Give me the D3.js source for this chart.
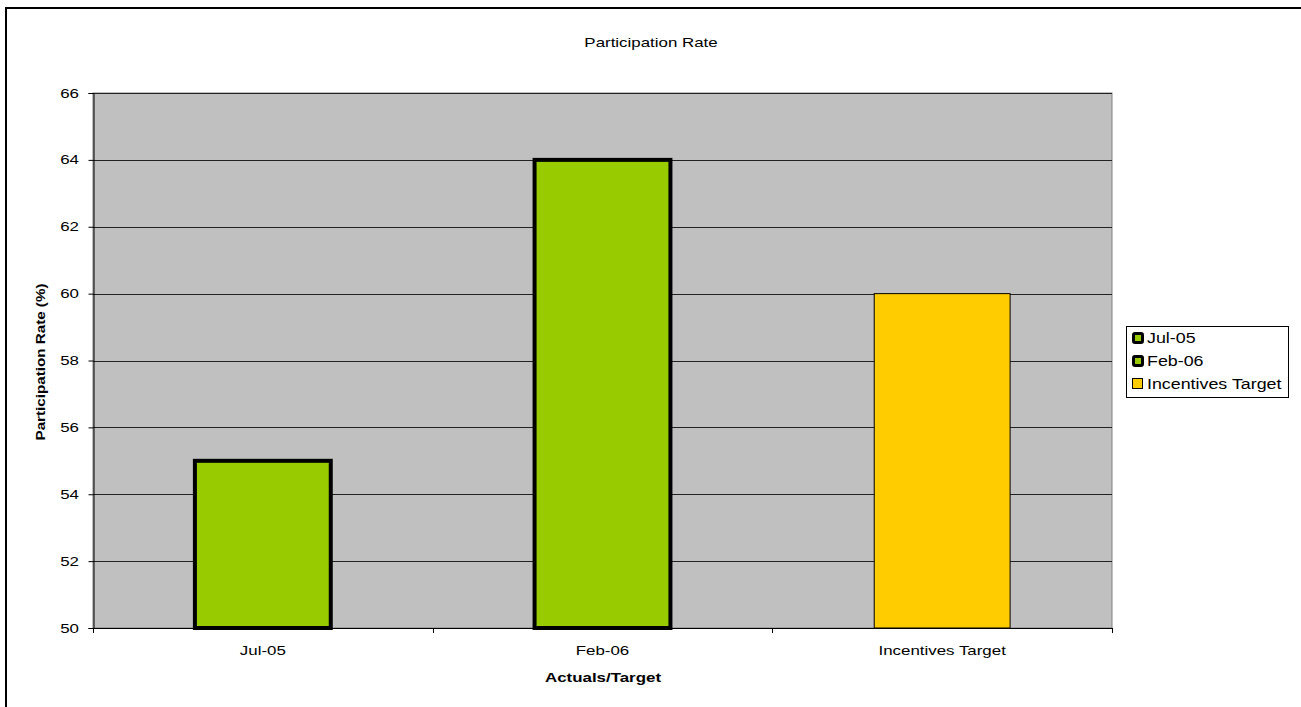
<html lang="en">
  <head>
    <meta charset="utf-8">
    <title>Participation Rate</title>
    <script src="https://d3js.org/d3.v7.min.js"></script>
    <style>
      body { margin: 0; background: #fff; }
      text { font-family: "Liberation Sans", Arial, sans-serif; fill: #000; }
    </style>
  </head>
  <body>
    <script type="text/javascript">
      var categories = ["Jul-05", "Feb-06", "Incentives Target"];
      var values = [55, 64, 60];
      var yTicks = [50, 52, 54, 56, 58, 60, 62, 64, 66];
      var fills = ["#99cc00", "#99cc00", "#ffcc00"];
      var strokeWidths = [4, 4, 1];

      var w = 1301, h = 707;
      var plot = {left: 93, top: 93, right: 1112, bottom: 628};
      var stretch = 1.3; // text in the original is wide-set

      var svg = d3.select("body").append("svg")
                  .attr("width", w)
                  .attr("height", h);

      // helper: horizontally stretched text
      function label(x, y, txt, anchor, size, bold, sx) {
        return svg.append("text")
                  .attr("transform", "translate(" + x + "," + y + ") scale(" + (sx || stretch) + ",1)")
                  .attr("text-anchor", anchor)
                  .style("font-size", size + "px")
                  .style("font-weight", bold ? "bold" : "normal")
                  .text(txt);
      }

      // outer chart border
      svg.append("rect")
         .attr("x", 6).attr("y", 8)
         .attr("width", w + 10).attr("height", h + 10)
         .attr("fill", "none")
         .attr("stroke", "black")
         .attr("stroke-width", 2);

      var xScale = d3.scaleBand()
                     .domain(categories)
                     .range([plot.left, plot.right])
                     .paddingInner(0.6)
                     .paddingOuter(0.3);
      var xBand = d3.scaleBand()
                    .domain(categories)
                    .range([plot.left, plot.right]);
      var yScale = d3.scaleLinear()
                     .domain([50, 66])
                     .range([plot.bottom, plot.top]);

      // plot area background
      svg.append("rect")
         .attr("x", plot.left).attr("y", plot.top)
         .attr("width", plot.right - plot.left)
         .attr("height", plot.bottom - plot.top)
         .attr("fill", "#c0c0c0")
         .attr("stroke", "#808080")
         .attr("stroke-width", 1);

      // gridlines
      svg.selectAll("line.grid")
         .data(yTicks.slice(1))
         .enter()
         .append("line")
         .attr("class", "grid")
         .attr("x1", plot.left).attr("x2", plot.right)
         .attr("y1", function (d) { return Math.round(yScale(d)) + 0.5; })
         .attr("y2", function (d) { return Math.round(yScale(d)) + 0.5; })
         .attr("stroke", "#222")
         .attr("stroke-width", 1);

      // bars
      svg.selectAll("rect.bar")
         .data(values)
         .enter()
         .append("rect")
         .attr("class", "bar")
         .attr("x", function (d, i) { return xScale(categories[i]); })
         .attr("y", function (d) { return yScale(d); })
         .attr("width", xScale.bandwidth())
         .attr("height", function (d) { return yScale(50) - yScale(d); })
         .attr("fill", function (d, i) { return fills[i]; })
         .attr("stroke", "black")
         .attr("stroke-width", function (d, i) { return strokeWidths[i]; });

      // y axis
      var yAxis = d3.axisLeft(yScale).tickValues(yTicks).tickSize(5).tickFormat("");
      var gy = svg.append("g")
                  .attr("transform", "translate(" + (plot.left + 0.5) + ",0)")
                  .call(yAxis);
      gy.select(".domain").attr("stroke", "black");
      yTicks.forEach(function (t) {
        label(plot.left - 14, yScale(t) + 4.5, String(t), "end", 13, false);
      });

      // x axis
      svg.append("line")
         .attr("x1", plot.left).attr("x2", plot.right)
         .attr("y1", plot.bottom + 0.5).attr("y2", plot.bottom + 0.5)
         .attr("stroke", "black");
      var bounds = categories.map(function (c) { return xBand(c); }).concat([plot.right]);
      svg.selectAll("line.xtick")
         .data(bounds)
         .enter()
         .append("line")
         .attr("class", "xtick")
         .attr("x1", function (d) { return Math.round(d) + 0.5; })
         .attr("x2", function (d) { return Math.round(d) + 0.5; })
         .attr("y1", plot.bottom).attr("y2", plot.bottom + 5)
         .attr("stroke", "black");
      categories.forEach(function (c) {
        label(xBand(c) + xBand.bandwidth() / 2, 655, c, "middle", 13, false);
      });

      // titles
      label(651, 47, "Participation Rate", "middle", 13, false);
      label(603, 682, "Actuals/Target", "middle", 13, true);
      svg.append("text")
         .attr("transform", "translate(45,362) rotate(-90) scale(1.17,1)")
         .attr("text-anchor", "middle")
         .style("font-size", "13px")
         .style("font-weight", "bold")
         .text("Participation Rate (%)");

      // legend
      var legend = svg.append("g").attr("transform", "translate(1126,326)");
      legend.append("rect")
            .attr("x", 0.5).attr("y", 0.5)
            .attr("width", 162).attr("height", 71)
            .attr("fill", "white")
            .attr("stroke", "black");
      var items = legend.selectAll("g.item")
                        .data(categories)
                        .enter()
                        .append("g")
                        .attr("class", "item")
                        .attr("transform", function (d, i) { return "translate(6," + (12 + i * 23) + ")"; });
      items.append("rect")
           .attr("x", function (d, i) { return strokeWidths[i] > 1 ? 1.5 : 0.5; })
           .attr("y", function (d, i) { return strokeWidths[i] > 1 ? -4.5 : -5.5; })
           .attr("width", function (d, i) { return strokeWidths[i] > 1 ? 9 : 10; })
           .attr("height", function (d, i) { return strokeWidths[i] > 1 ? 9 : 10; })
           .attr("rx", function (d, i) { return strokeWidths[i] > 1 ? 1.5 : 0; })
           .attr("fill", function (d, i) { return fills[i]; })
           .attr("stroke", "black")
           .attr("stroke-width", function (d, i) { return strokeWidths[i] > 1 ? 3 : 1; });
      items.append("text")
           .attr("transform", "translate(15,5) scale(1.19,1)")
           .style("font-size", "15px")
           .text(function (d) { return d; });
    </script>
  </body>
</html>
